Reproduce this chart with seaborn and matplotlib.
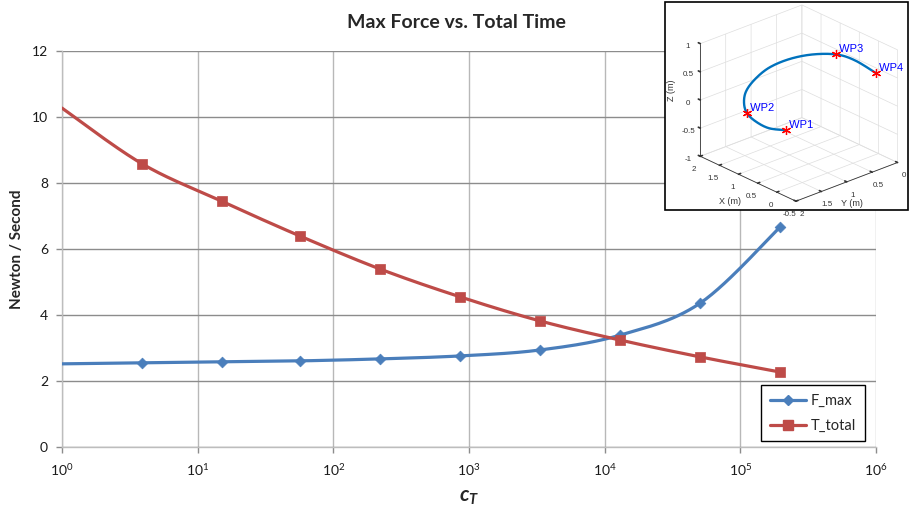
import numpy as np
import matplotlib
matplotlib.use("Agg")
import matplotlib.pyplot as plt
import seaborn as sns
from matplotlib.lines import Line2D
from matplotlib.patches import Rectangle
from matplotlib.ticker import LogLocator, NullLocator, FormatStrFormatter

# ---- main chart data ----
c_T = [1, 3.9, 15, 57, 222, 860, 3340, 13000, 50600, 197000]
f_max = [2.52, 2.55, 2.58, 2.61, 2.67, 2.76, 2.94, 3.39, 4.36, 6.67]
t_total = [10.27, 8.58, 7.45, 6.39, 5.39, 4.55, 3.82, 3.24, 2.73, 2.27]
series_names = ["F_max", "T_total"]
y_ticks = [0, 2, 4, 6, 8, 10, 12]

# ---- inset trajectory (metres) ----
path_x = [1.11, 1.28, 1.46, 1.56, 1.56, 1.55, 1.47, 1.32, 1.09, 0.79, 0.42, 0.11, -0.26]
path_y = [0.99, 1.19, 1.31, 1.41, 1.47, 1.44, 1.33, 1.16, 0.94, 0.71, 0.51, 0.38, 0.25]
path_z = [-0.60, -0.55, -0.45, -0.30, -0.10, 0.10, 0.30, 0.50, 0.65, 0.75, 0.80, 0.75, 0.60]
wp_names = ["WP1", "WP2", "WP3", "WP4"]
wp_index = [0, 3, 10, 12]

BLUE = "#4A7EBB"
RED = "#BE4B48"


def smooth_curve(points, n=30):
    """Bezier smoothing through the points (control points at 1/6 of neighbour chords)."""
    pts = np.asarray(points, dtype=float)
    m = len(pts)
    out = []
    t = np.linspace(0, 1, n)[:, None]
    for i in range(m - 1):
        p0, p1 = pts[i], pts[i + 1]
        pm = pts[i - 1] if i > 0 else p0
        pp = pts[i + 2] if i + 2 < m else p1
        c1 = p0 + (p1 - pm) / 6.0
        c2 = p1 - (pp - p0) / 6.0
        seg = (1 - t) ** 3 * p0 + 3 * (1 - t) ** 2 * t * c1 + 3 * (1 - t) * t ** 2 * c2 + t ** 3 * p1
        out.append(seg if i == 0 else seg[1:])
    return np.vstack(out)


sns.set_theme(style="white")
plt.rcParams["font.family"] = ["Lato", "DejaVu Sans"]
plt.rcParams["mathtext.fontset"] = "custom"
plt.rcParams["mathtext.rm"] = "Lato"
plt.rcParams["mathtext.it"] = "Lato:italic:bold"
plt.rcParams["mathtext.bf"] = "Lato:bold"

fig = plt.figure(figsize=(9.10, 5.15), dpi=100)
ax = fig.add_axes([62 / 910, 1 - 447 / 515, (876 - 62) / 910, (447 - 51) / 515])

for vals, color, marker, ms in [(f_max, BLUE, "D", 30), (t_total, RED, "s", 48)]:
    curve = smooth_curve(np.column_stack([np.log10(c_T), vals]))
    sns.lineplot(x=10 ** curve[:, 0], y=curve[:, 1], sort=False, estimator=None,
                 color=color, linewidth=2.3, ax=ax, zorder=3)
    sns.scatterplot(x=c_T[1:], y=vals[1:], marker=marker, s=ms, color=color,
                    edgecolor=color, linewidth=0.5, ax=ax, zorder=4)

ax.set_xscale("log")
ax.set_xlim(1, 1e6)
ax.set_ylim(0, 12)
ax.set_yticks(y_ticks)
ax.xaxis.set_major_locator(LogLocator(base=10, numticks=10))
ax.xaxis.set_minor_locator(NullLocator())
ax.grid(axis="y", color="#8c8c8c", linewidth=1.0)
ax.grid(axis="x", color="#b8b8b8", linewidth=1.0)
ax.set_axisbelow(True)
for side in ["top", "right"]:
    ax.spines[side].set_visible(False)
for side in ["left", "bottom"]:
    ax.spines[side].set_color("#bdbdbd")
    ax.spines[side].set_linewidth(1.0)
ax.tick_params(axis="both", which="major", direction="out", length=4, width=1,
               color="#8c8c8c", labelsize=10, labelcolor="#1a1a1a", pad=6,
               bottom=True, left=True)
ax.tick_params(axis="x", pad=7)
ax.xaxis.offsetText.set_visible(False)
ax.yaxis.offsetText.set_visible(False)

ax.set_xlabel(r"$c_T$", fontsize=15)
ax.xaxis.set_label_coords(0.5, -0.1)
ax.set_ylabel("Newton / Second", fontsize=11, fontweight="bold")
ax.yaxis.set_label_coords(-0.047, 0.5)
fig.text(456 / 910, 1 - 22 / 515, "Max Force vs. Total Time", ha="center", va="center",
         fontsize=14, fontweight="bold")

handles = [Line2D([], [], color=BLUE, linewidth=2.3, marker="D", markersize=5.5),
           Line2D([], [], color=RED, linewidth=2.3, marker="s", markersize=6.5)]
leg = ax.legend(handles, series_names, loc="lower right", bbox_to_anchor=(0.986, 0.014),
                fontsize=10.5, frameon=True, fancybox=False, edgecolor="black",
                framealpha=1, handlelength=2.5, handletextpad=0.3, borderpad=0.6,
                labelspacing=0.75, borderaxespad=0)
leg.get_frame().set_linewidth(1.0)

# ---- inset: 3-D waypoint trajectory ----
frame = Rectangle((665 / 910, 1 - 210 / 515), (908 - 665) / 910, (210 - 2) / 515,
                  transform=fig.transFigure, facecolor="white", edgecolor="black",
                  linewidth=1.2, zorder=5)
fig.patches.append(frame)

ax3 = fig.add_axes([676 / 910, 1 - 214 / 515, 240 / 910, 216 / 515], projection="3d")
ax3.set_zorder(6)
ax3.patch.set_alpha(0)
ax3.set_proj_type("ortho")
ax3.view_init(elev=25, azim=-42)
ax3.set_xlim(2, -0.5)
ax3.set_ylim(2, 0)
ax3.set_zlim(-1, 1)
ax3.set_box_aspect((1.15, 1.1, 1), zoom=1.05)

path = smooth_curve(np.column_stack([path_x, path_y, path_z]), n=20)
ax3.plot(path[:, 0], path[:, 1], path[:, 2], color="#0072BD", linewidth=1.7)
for name, idx in zip(wp_names, wp_index):
    ax3.plot([path_x[idx]], [path_y[idx]], [path_z[idx]], linestyle="none",
             marker=(6, 2, 0), markersize=6.5, color="red", markeredgewidth=0.9)
    ax3.text(path_x[idx], path_y[idx], path_z[idx], " " + name, color="blue",
             fontsize=8, family="Liberation Sans", va="bottom", ha="left")

ax3.set_xticks([-0.5, 0, 0.5, 1, 1.5, 2])
ax3.set_yticks([0, 0.5, 1, 1.5, 2])
ax3.set_zticks([-1, -0.5, 0, 0.5, 1])
for axis in (ax3.xaxis, ax3.yaxis, ax3.zaxis):
    axis.set_major_formatter(FormatStrFormatter("%g"))
    axis.set_pane_color((1, 1, 1, 0))
    axis.pane.set_edgecolor("#d6d6d6")
    axis._axinfo["grid"].update(color="#dedede", linewidth=0.5)
    axis.line.set_color("#333333")
    axis.line.set_linewidth(0.6)
    axis._axinfo["tick"].update(inward_factor=0.0, outward_factor=0.25)
    axis.set_tick_params(labelsize=5.8, pad=-3, colors="#333333")
    axis.label.set_visible(False)
    axis.offsetText.set_visible(False)
ax3.title.set_visible(False)
ax3.zaxis.set_ticks_position("upper")
for lbl in ax3.get_xticklabels() + ax3.get_yticklabels() + ax3.get_zticklabels():
    lbl.set_family("Liberation Sans")

# axis titles of the inset, kept upright
fig.text(730 / 910, 1 - 202 / 515, "X (m)", fontsize=6.5, family="Liberation Sans",
         ha="center", va="center", color="#333333", zorder=7)
fig.text(852 / 910, 1 - 204 / 515, "Y (m)", fontsize=6.5, family="Liberation Sans",
         ha="center", va="center", color="#333333", zorder=7)
fig.text(672 / 910, 1 - 90 / 515, "Z (m)", fontsize=6.5, family="Liberation Sans",
         ha="center", va="center", rotation=90, color="#333333", zorder=7)

fig.savefig("out.png", dpi=100)
